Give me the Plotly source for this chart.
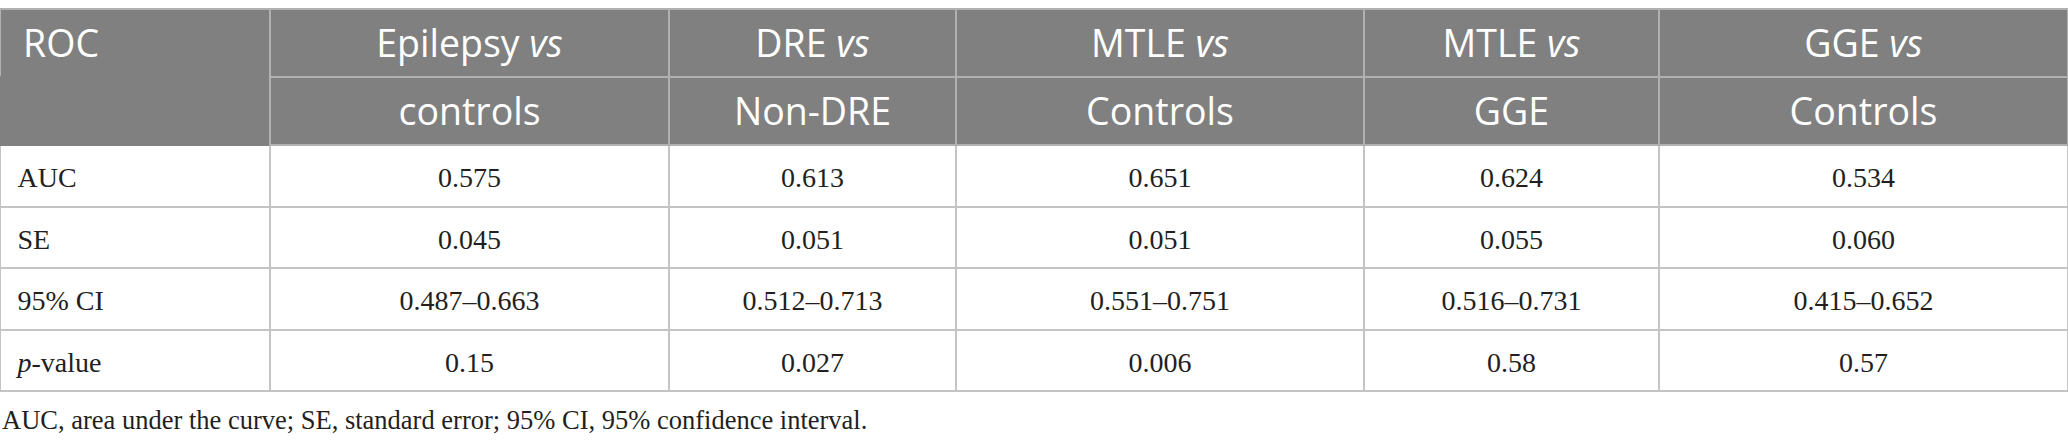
import plotly.graph_objects as go

# header: first line / second line per column
head_top = ["ROC", "Epilepsy <i>vs</i>", "DRE <i>vs</i>", "MTLE <i>vs</i>", "MTLE <i>vs</i>", "GGE <i>vs</i>"]
head_bot = ["", "controls", "Non-DRE", "Controls", "GGE", "Controls"]

row_labels = ["AUC", "SE", "95% CI", "<i>p</i>-value"]
auc = ["0.575", "0.613", "0.651", "0.624", "0.534"]
se = ["0.045", "0.051", "0.051", "0.055", "0.060"]
ci = ["0.487–0.663", "0.512–0.713", "0.551–0.751", "0.516–0.731", "0.415–0.652"]
pval = ["0.15", "0.027", "0.006", "0.58", "0.57"]

footnote = "AUC, area under the curve; SE, standard error; 95% CI, 95% confidence interval."

HEAD_BG = "#7f807f"
HEAD_GRID = "#b0b1b0"
GRID = "#c4c4c4"


# plotly tables top-align text; a taller blank span pushes the baseline down
# to the middle of the row. trailing <br> keeps auto-wrap off the span tags
def sp(n, size):
    return f'<span style="font-size:{size}px">' + "\u00a0" * n + "</span>"


def body_cell(s, left=False):
    if left:
        return sp(1, 38) + f'<span style="font-size:28px">{s}</span><br>'
    return sp(1, 38) + f'<span style="font-size:28px">{s}</span>' + sp(1, 38) + "<br>"


body = [auc, se, ci, pval]
cell_cols = [[body_cell(v, left=True) for v in row_labels]]
cell_cols += [[body_cell(r[i]) for r in body] for i in range(len(auc))]

head_cols = [[sp(2, 29) + head_top[0] + "<br>", ""]]
head_cols += [[t + "<br>", b + "<br>"] for t, b in zip(head_top[1:], head_bot[1:])]

# ROC cell spans both header rows -> hide the border of its lower half
head_line = [[HEAD_GRID, HEAD_BG]] + [[HEAD_GRID, HEAD_GRID]] * (len(head_top) - 1)

fig = go.Figure(go.Table(
    columnwidth=[270, 399, 287, 408, 295, 409],
    header=dict(
        values=head_cols,
        fill_color=HEAD_BG,
        line=dict(color=head_line, width=2),
        font=dict(family="Open Sans", size=37.5, color="white"),
        align=["left"] + ["center"] * 5,
        height=68,
    ),
    cells=dict(
        values=cell_cols,
        fill_color="white",
        line=dict(color=GRID, width=2),
        font=dict(family="Liberation Serif", size=28, color="#231f20"),
        align=["left"] + ["center"] * 5,
        height=61.5,
    ),
    domain=dict(x=[0, 1], y=[0, 1]),
))

fig.add_annotation(
    text=footnote, xref="paper", yref="paper", x=0, y=0.062,
    xanchor="left", yanchor="middle", showarrow=False,
    font=dict(family="Liberation Serif", size=26.5, color="#231f20"),
)

fig.update_layout(
    width=2068, height=447,
    margin=dict(l=0, r=0, t=9, b=0),
    paper_bgcolor="white",
)

fig.write_html("out.html", config={"displayModeBar": False},
               post_script="document.body.style.margin='0px';")
